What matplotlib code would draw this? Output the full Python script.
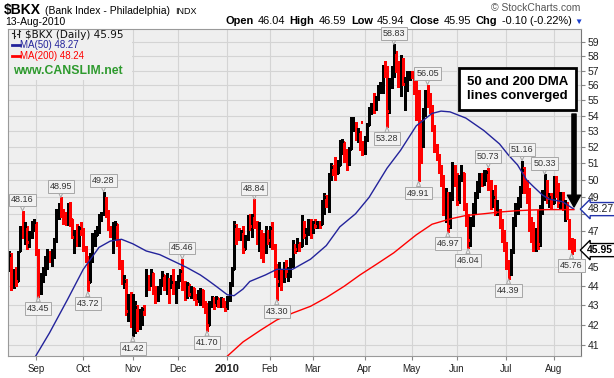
import numpy as np
import pandas as pd
import matplotlib
matplotlib.use("Agg")
import matplotlib.pyplot as plt
import matplotlib.transforms as mtransforms
from matplotlib.lines import Line2D
from matplotlib.patches import Rectangle
from matplotlib.ticker import FixedLocator, NullLocator, FixedFormatter

plt.rcParams['font.family'] = ['Liberation Sans', 'DejaVu Sans']

# DATA #

symbol = "$BKX"
title = "(Bank Index - Philadelphia)"
exchange = "INDX"
holidays = ["2009-09-07", "2009-11-26", "2009-12-25", "2010-01-01", "2010-01-18",
            "2010-02-15", "2010-04-02", "2010-05-31", "2010-07-05"]

# daily bars, 14-Aug-2009 .. 13-Aug-2010
opens = [
    45.3, 45.6, 44.0, 44.6, 44.3, 45.9, 47.2, 46.8, 47.2, 46.5, 46.8, 47.3,  # aug
    47.4, 45.9, 44.2, 44.5, 44.8, 45.4, 45.7, 45.5, 45.9, 46.5, 48.1, 48.5, 48.2, 47.6, 47.4, 48.3,
    47.7, 46.7, 46.9, 46.4, 47.2,  # sep
    47.0, 46.1, 45.5, 44.2, 45.5, 46.7, 46.8, 47.1, 47.8, 48.0, 48.9, 48.0, 47.2, 46.9, 47.0, 47.4,
    46.4, 45.1, 44.2, 44.3, 42.7, 43.4,  # oct
    42.1, 42.5, 42.9, 41.9, 42.6, 42.8, 43.6, 44.5, 44.3, 44.7, 43.9, 43.3, 43.9, 44.3, 44.6, 44.0,
    44.4, 44.0, 44.2, 43.8,  # nov
    44.1, 44.5, 44.8, 44.0, 43.5, 44.1, 43.6, 43.9, 43.5, 43.2, 43.7, 43.8, 43.1, 42.7, 42.0, 43.1,
    43.3, 43.0, 43.4, 43.0, 43.3, 43.1,  # dec
    42.9, 43.4, 44.1, 44.9, 47.3, 47.1, 46.6, 47.0, 46.0, 46.6, 47.8, 47.3, 47.9, 47.5, 46.5, 47.0,
    45.6, 45.9, 47.0,  # jan
    46.5, 47.2, 46.2, 44.7, 44.3, 44.6, 44.4, 45.1, 44.8, 44.9, 45.4, 46.2, 46.0, 46.3, 46.2, 47.5,
    46.8, 47.0, 47.5,  # feb
    47.0, 47.5, 47.3, 47.5, 47.4, 48.6, 49.0, 48.6, 50.2, 50.8, 50.6, 50.4, 50.9, 52.2, 52.3, 51.4,
    51.0, 51.9, 53.6, 52.8, 53.0, 52.0, 53.6,  # mar
    51.8, 52.5, 53.4, 54.4, 54.6, 54.5, 55.1, 55.8, 56.0, 57.2, 56.8, 54.3, 56.2, 57.0, 58.3, 57.6,
    56.2, 57.8, 56.1, 56.4, 56.8,  # apr
    56.9, 56.8, 55.6, 54.0, 53.0, 52.5, 54.3, 55.4, 55.0, 54.5, 53.3, 52.0, 51.5, 50.7, 49.9, 48.3,
    49.2, 47.3, 48.9, 50.6,  # may
    49.8, 48.7, 50.2, 50.4, 48.4, 47.6, 46.5, 47.6, 48.4, 49.1, 49.6, 50.2, 49.8, 50.3, 50.5, 49.6,
    48.5, 49.0, 48.1, 48.2, 47.4, 46.6,  # jun
    46.1, 45.3, 44.8, 45.9, 47.6, 48.4, 48.8, 49.4, 50.6, 49.4, 49.2, 47.3, 46.8, 46.2, 47.0, 46.3,
    48.3, 49.2, 49.9, 48.9, 49.0,  # jul
    48.6, 50.0, 49.3, 48.7, 49.1, 48.5, 48.6, 47.6, 46.2, 46.04,  # aug
]
highs = [
    45.9, 45.8, 44.9, 45.0, 45.9, 47.3, 48.16, 47.5, 47.3, 47.0, 47.6, 47.7,
    47.5, 46.0, 44.7, 45.0, 45.6, 46.0, 45.9, 46.0, 46.6, 48.3, 48.6, 48.95, 48.3, 48.1, 48.6, 48.7,
    47.7, 47.1, 47.4, 47.3, 47.5,
    47.2, 46.2, 45.6, 45.8, 46.9, 47.1, 47.3, 48.0, 48.1, 49.28, 48.95, 48.2, 47.3, 47.5, 47.6, 47.4,
    46.5, 45.4, 44.6, 44.4, 43.6, 43.7,
    43.6, 43.2, 43.0, 42.8, 42.9, 43.0, 44.9, 44.6, 44.9, 44.7, 44.0, 44.0, 44.4, 44.8, 44.6, 44.7,
    44.4, 44.6, 44.9, 44.3,
    44.6, 44.9, 45.46, 44.3, 44.2, 44.1, 44.0, 43.9, 43.6, 43.8, 43.9, 43.8, 43.2, 43.1, 43.2, 43.5,
    43.45, 43.5, 43.4, 43.45, 43.4, 43.2,
    43.5, 44.2, 45.0, 47.6, 47.4, 47.2, 47.1, 47.3, 46.8, 47.9, 48.0, 48.0, 48.84, 47.6, 47.5, 47.1,
    46.9, 47.3, 47.0,
    47.3, 47.5, 46.3, 45.2, 45.3, 44.9, 45.3, 45.4, 45.0, 45.5, 46.5, 46.3, 46.6, 46.4, 47.9, 47.6,
    47.2, 47.7, 47.7,
    47.6, 47.7, 47.6, 47.6, 48.8, 49.2, 49.1, 50.4, 51.0, 50.9, 51.4, 51.2, 52.45, 52.5, 52.3, 51.9,
    52.0, 53.9, 53.9, 53.6, 53.2, 53.0, 52.4,
    52.7, 53.5, 54.6, 54.8, 55.5, 55.3, 56.0, 56.2, 57.4, 57.7, 57.3, 56.5, 57.3, 58.83, 58.4, 57.7,
    58.1, 57.9, 56.6, 57.0, 57.0,
    57.0, 56.9, 56.4, 55.7, 53.7, 54.5, 55.7, 56.05, 55.5, 54.7, 53.4, 52.2, 51.6, 50.9, 50.3, 49.5,
    49.3, 49.3, 51.1, 50.9,
    50.4, 50.3, 50.9, 50.4, 48.6, 48.0, 47.8, 48.6, 49.3, 49.9, 50.4, 50.4, 50.6, 50.6, 50.73, 50.0,
    49.4, 49.7, 48.8, 48.3, 47.7, 47.1,
    46.4, 45.4, 46.0, 47.8, 48.6, 49.0, 49.6, 51.16, 50.8, 50.0, 49.5, 47.8, 47.5, 47.2, 48.2, 48.5,
    49.4, 50.33, 50.0, 49.2, 49.2,
    50.25, 50.2, 49.8, 49.3, 49.3, 48.8, 48.7, 47.7, 46.6, 46.59,
]
lows = [
    44.8, 43.8, 43.9, 44.0, 44.3, 45.9, 46.6, 46.3, 46.0, 46.1, 46.6, 47.0,
    45.7, 43.45, 43.6, 44.2, 44.6, 44.9, 45.3, 45.1, 45.5, 46.4, 47.7, 47.8, 47.4, 47.4, 47.4, 47.3,
    46.6, 45.8, 46.2, 46.2, 46.8,
    45.9, 45.3, 43.72, 44.2, 45.3, 46.2, 46.8, 46.9, 47.6, 48.0, 47.8, 47.1, 46.7, 45.8, 46.5, 46.2,
    44.9, 44.1, 43.9, 42.5, 42.2, 41.9,
    41.42, 41.6, 41.7, 41.8, 42.0, 42.5, 43.5, 43.8, 44.0, 43.6, 43.1, 43.2, 43.6, 44.0, 43.8, 43.6,
    43.1, 43.9, 43.6, 43.1,
    43.9, 44.3, 43.8, 43.3, 43.4, 43.5, 43.4, 43.3, 43.0, 43.2, 43.0, 42.9, 42.6, 41.70, 42.0, 42.9,
    42.8, 43.0, 42.9, 42.9, 42.9, 42.7,
    42.8, 43.2, 44.0, 44.9, 46.3, 46.5, 46.5, 45.8, 46.0, 46.5, 47.1, 46.7, 47.2, 46.3, 45.9, 45.5,
    45.3, 45.8, 46.3,
    46.1, 46.0, 44.5, 43.30, 44.0, 43.8, 44.2, 44.5, 44.3, 44.5, 45.0, 45.8, 45.9, 45.9, 46.2, 46.6,
    46.3, 46.8, 46.6,
    46.9, 47.2, 47.2, 47.2, 47.4, 48.0, 48.4, 48.1, 50.0, 50.3, 50.0, 50.4, 50.9, 51.6, 51.1, 50.6,
    50.9, 51.9, 53.0, 52.45, 52.3, 51.8, 51.5,
    51.6, 52.4, 53.4, 54.1, 54.2, 54.4, 55.0, 55.5, 55.5, 56.6, 53.28, 54.2, 55.8, 56.6, 56.9, 55.9,
    55.3, 56.0, 54.4, 55.6, 56.4,
    56.5, 55.4, 53.7, 49.91, 51.0, 52.0, 54.0, 54.6, 54.2, 53.0, 51.7, 51.2, 50.4, 49.6, 47.9, 47.5,
    46.97, 47.2, 48.8, 49.6,
    48.5, 48.6, 49.9, 48.2, 47.3, 46.04, 46.2, 47.3, 48.0, 48.9, 49.3, 49.6, 49.7, 49.9, 49.4, 48.3,
    48.4, 47.9, 47.9, 47.2, 46.4, 45.9,
    44.9, 44.39, 44.6, 45.8, 47.3, 48.0, 48.4, 49.2, 49.2, 48.6, 47.0, 46.4, 45.9, 45.9, 46.0, 46.2,
    48.0, 48.8, 48.6, 48.4, 48.3,
    48.6, 49.0, 48.4, 48.3, 48.2, 47.6, 47.7, 46.0, 45.76, 45.94,
]
closes = [
    45.7, 44.0, 44.7, 44.3, 45.8, 47.1, 46.9, 47.3, 46.4, 46.8, 47.3, 47.5,
    45.9, 44.2, 44.5, 44.8, 45.4, 45.7, 45.5, 45.9, 46.5, 48.1, 48.5, 48.2, 47.5, 47.4, 48.3, 47.7,
    46.7, 46.9, 46.4, 47.2, 47.0,
    46.1, 45.5, 44.2, 45.5, 46.7, 46.8, 47.1, 47.8, 48.0, 48.9, 48.0, 47.2, 46.9, 47.3, 47.4, 46.4,
    45.1, 44.2, 44.3, 42.7, 43.4, 42.1,
    42.5, 42.9, 41.9, 42.6, 42.8, 42.6, 44.7, 44.4, 44.8, 43.9, 43.3, 43.9, 44.3, 44.6, 44.0, 44.5,
    43.3, 44.2, 43.8, 44.1,
    44.5, 44.8, 44.0, 43.5, 44.1, 43.6, 43.9, 43.5, 43.2, 43.7, 43.8, 43.1, 42.7, 42.0, 43.1, 43.3,
    43.0, 43.4, 43.0, 43.3, 43.1, 42.8,
    43.4, 44.1, 44.9, 47.3, 47.1, 46.6, 47.0, 46.0, 46.6, 47.8, 47.3, 47.9, 47.5, 46.5, 47.3, 45.6,
    45.4, 47.1, 46.5,
    47.2, 46.2, 44.7, 44.3, 45.0, 44.4, 45.1, 44.8, 44.9, 45.4, 46.2, 46.0, 46.4, 46.2, 47.7, 46.8,
    47.0, 47.5, 46.9,
    47.5, 47.3, 47.5, 47.4, 48.6, 49.0, 48.6, 50.2, 50.8, 50.6, 50.3, 50.9, 52.2, 52.4, 51.4, 51.0,
    51.9, 53.6, 53.7, 52.8, 53.0, 52.0, 51.8,
    52.5, 53.4, 54.4, 54.6, 54.5, 55.1, 55.8, 56.0, 57.2, 56.8, 54.3, 56.2, 57.0, 58.3, 57.6, 56.2,
    57.8, 56.1, 56.4, 56.8, 56.9,
    56.8, 55.6, 54.0, 53.2, 51.5, 54.3, 55.4, 55.0, 54.5, 53.3, 52.0, 51.5, 50.7, 49.9, 48.3, 49.2,
    47.3, 48.9, 50.6, 49.8,
    48.7, 50.2, 50.4, 48.4, 47.6, 46.5, 47.6, 48.4, 49.1, 49.6, 50.2, 49.8, 50.3, 50.5, 49.6, 48.5,
    49.0, 48.1, 48.2, 47.4, 46.6, 46.1,
    45.3, 44.8, 45.9, 47.6, 48.4, 48.8, 49.4, 50.6, 49.4, 49.2, 47.3, 46.8, 46.2, 47.0, 46.3, 48.3,
    49.2, 49.9, 48.9, 49.0, 48.6,
    50.0, 49.3, 48.7, 49.1, 48.5, 48.6, 48.0, 46.2, 46.05, 45.95,
]

# moving averages, sampled from the drawn lines (bar number, value)
ma50_bar = [11, 18, 26, 33, 40, 45, 50, 55, 61, 67, 73, 79, 85, 88, 92, 97, 100, 104, 107, 114,
            119, 126, 134, 141, 147, 154, 160, 168, 174, 181, 188, 192, 196, 203, 211, 218, 222,
            226, 230, 233, 237, 240, 246, 251]
ma50 = [40.3, 41.6, 43.3, 44.9, 46.1, 46.45, 46.55, 46.3, 45.9, 45.7, 45.35, 45.0, 44.6, 44.35,
        44.0, 43.55, 43.5, 43.85, 44.25, 44.6, 44.9, 44.9, 45.45, 46.2, 47.25, 48.0, 48.95, 50.7,
        51.8, 53.35, 54.15, 54.3, 54.25, 53.85, 53.05, 52.2, 51.5, 50.9, 50.0, 49.6, 49.1, 48.85,
        48.7, 48.27]
ma200_bar = [97, 104, 112, 119, 126, 134, 141, 149, 156, 163, 171, 178, 181, 188, 196, 203, 211,
             218, 226, 233, 240, 251]
ma200 = [40.45, 41.15, 41.75, 42.25, 42.6, 42.95, 43.4, 44.0, 44.6, 45.15, 45.8, 46.5, 46.8, 47.4,
         47.7, 47.9, 48.0, 48.1, 48.18, 48.22, 48.24, 48.24]

# labelled swing highs / lows (bar numbers)
peak_bars = [6, 23, 42, 77, 109, 171, 186, 213, 228, 238]
trough_bars = [13, 35, 55, 88, 119, 168, 182, 195, 204, 222, 250]

price_ticks = list(range(41, 60))
note = "50 and 200 DMA\nlines converged"

# PROGRAM #

W, H = 614, 378
def fx(px): return px / W
def fy(py): return 1 - py / H

o, h, l, c = (np.array(a) for a in (opens, highs, lows, closes))
dates = pd.bdate_range("2009-08-14", "2010-08-13", freq="C", holidays=holidays)
x = np.arange(len(dates))

fig = plt.figure(figsize=(W / 100, H / 100), dpi=100)
fig.patch.set_facecolor('white')
ax = fig.add_axes([fx(8), fy(356), fx(581) - fx(8), fy(29) - fy(356)])
ax.set_facecolor('#efefef')
ax.set_yscale('log')
ax.set_ylim(40.46, 59.93)
ax.set_xlim(-0.45, 254.2)

# price-axis tags hide the tick labels they sit on
tags = [ma50[-1], c[-1]]
tick_txt = ['' if min(abs(np.log(v / t)) for t in tags) < 0.013 else str(v) for v in price_ticks]

# grid / axes
month_start = [i for i in range(1, len(dates)) if dates[i].month != dates[i - 1].month]
month_lbl = ['2010' if dates[i].month == 1 else dates[i].strftime('%b') for i in month_start]
ax.xaxis.set_major_locator(FixedLocator(month_start))
ax.xaxis.set_major_formatter(FixedFormatter(month_lbl))
ax.yaxis.set_major_locator(FixedLocator(price_ticks))
ax.yaxis.set_major_formatter(FixedFormatter(tick_txt))
ax.yaxis.set_minor_locator(NullLocator())
ax.xaxis.set_minor_locator(NullLocator())
ax.yaxis.tick_right()
ax.set_axisbelow(True)
ax.grid(True, color='#d4d4d4', lw=0.8)
ax.tick_params(axis='y', direction='out', length=3, width=0.8, color='#888888',
               labelsize=7.5, pad=1.5, labelcolor='#222222')
ax.tick_params(axis='x', direction='out', length=3, width=0.8, color='#888888',
               labelsize=7, pad=3, labelcolor='#222222')
for t in ax.get_xticklabels():
    if t.get_text() == '2010':
        t.set_fontweight('bold')
        t.set_fontsize(8)
for s in ax.spines.values():
    s.set_color('#9a9a9a')
    s.set_linewidth(0.8)
ax.spines['right'].set_color('#777777')

# legend area covers the grid
ax.add_patch(Rectangle((0, (356 - 80) / 327), (132 - 8) / 573, 1, transform=ax.transAxes,
                       fc='#efefef', ec='none', zorder=1))

# OHLC bars
up = np.r_[True, c[1:] >= c[:-1]]
col = np.where(up, 'black', '#ff0000')
kw = dict(colors=col, lw=0.75, antialiased=False, zorder=2)
ax.vlines(x, l, h, **kw)
ax.hlines(o, x - 0.4, x, **kw)
ax.hlines(c, x, x + 0.4, **kw)

# moving averages
ax.plot(ma50_bar, ma50, color='#23239b', lw=1.0, zorder=3)
ax.plot(ma200_bar, ma200, color='#ff0000', lw=1.0, zorder=3)

# swing labels
box = dict(boxstyle='square,pad=0.2', fc='#f2f2f2', ec='#a6a6a6', lw=0.7)
arr = dict(arrowstyle='wedge,tail_width=0.45', fc='#f2f2f2', ec='#a6a6a6', lw=0.7,
           shrinkA=0, shrinkB=0)
for i in peak_bars:
    ax.annotate(f'{h[i]:.2f}', xy=(i, h[i]), xytext=(0, 8), textcoords='offset points',
                ha='center', va='center', fontsize=6.5, color='#333333', bbox=box,
                arrowprops=arr, zorder=4)
for i in trough_bars:
    ax.annotate(f'{l[i]:.2f}', xy=(i, l[i]), xytext=(0, -8.5), textcoords='offset points',
                ha='center', va='center', fontsize=6.5, color='#333333', bbox=box,
                arrowprops=arr, zorder=4)

# current values on the price axis
bt = mtransforms.blended_transform_factory(ax.transAxes, ax.transData)
ax.text(1.011, ma50[-1], f'{ma50[-1]:.2f}', transform=bt, ha='left', va='center',
        fontsize=7.5, color='#222222', zorder=6, clip_on=False,
        bbox=dict(boxstyle='larrow,pad=0.15', fc='white', ec='#2233aa', lw=1.0))
ax.text(1.011, c[-1], f'{c[-1]:.2f}', transform=bt, ha='left', va='center',
        fontsize=7.5, fontweight='bold', color='black', zorder=6, clip_on=False,
        bbox=dict(boxstyle='larrow,pad=0.15', fc='white', ec='black', lw=1.0))

# note and arrow
fig.text(fx(517.5), fy(89), note, ha='center', va='center', fontsize=9.5, fontweight='bold',
         linespacing=1.25,
         bbox=dict(boxstyle='square,pad=0.6', fc='white', ec='black', lw=2))
ax.annotate('', xy=(fx(574), fy(207)), xycoords='figure fraction',
            xytext=(fx(574), fy(114)), textcoords='figure fraction',
            arrowprops=dict(arrowstyle='simple,head_length=0.85,head_width=0.95,tail_width=0.3',
                            fc='black', ec='black', shrinkA=0, shrinkB=0, mutation_scale=10),
            annotation_clip=False, zorder=7)

# header texts
r = fig.canvas.get_renderer()
def row(px, py, parts):
    for s, gap, kw in parts:
        t = fig.text(fx(px), fy(py), s, va='baseline', **kw)
        px += t.get_window_extent(r).width + gap
    return px

row(4, 14, [(symbol, 4, dict(fontsize=10, fontweight='bold')),
            (title, 5, dict(fontsize=7.5)),
            (exchange, 0, dict(fontsize=6.5))])
fig.text(fx(5), fy(25), dates[-1].strftime('%d-%b-%Y'), fontsize=7.5, va='baseline')
chg = c[-1] - c[-2]
B = dict(fontsize=7.9, fontweight='bold')
N = dict(fontsize=7.9)
end = row(225, 24, [("Open", 4, B), (f"{o[-1]:.2f}", 5, N), ("High", 4, B), (f"{h[-1]:.2f}", 5, N),
                    ("Low", 4, B), (f"{l[-1]:.2f}", 5, N), ("Close", 4, B), (f"{c[-1]:.2f}", 5, N),
                    ("Chg", 4, B), (f"{chg:.2f} ({chg / c[-2] * 100:.2f}%)", 3, N)])
fig.text(fx(end), fy(24), "\u25bc", fontsize=6, color='#1a3fd0', va='baseline')
fig.text(fx(580), fy(11), "\u00a9 StockCharts.com", fontsize=7.5, color='#555555',
         ha='right', va='baseline')

# legend
for xs, ys in [([13.5, 13.5], [30, 38]), ([12, 13.5], [32.5, 32.5]), ([13.5, 15], [35.5, 35.5]),
               ([18.5, 18.5], [29.5, 36.5]), ([17, 18.5], [34, 34]), ([18.5, 20], [31, 31])]:
    fig.add_artist(Line2D([fx(v) for v in xs], [fy(v) for v in ys], color='#222222', lw=0.8))
fig.text(fx(25), fy(37.5), f"{symbol} (Daily) {c[-1]:.2f}", fontsize=7.5, va='baseline',
         family='DejaVu Sans', color='#111111')
fig.add_artist(Line2D([fx(12), fx(20)], [fy(44.5)] * 2, color='#23239b', lw=2))
fig.text(fx(20.5), fy(48), f"MA(50) {ma50[-1]:.2f}", fontsize=7, va='baseline', color='#23239b')
fig.add_artist(Line2D([fx(12), fx(20)], [fy(55.5)] * 2, color='#ff0000', lw=2))
fig.text(fx(20.5), fy(59), f"MA(200) {ma200[-1]:.2f}", fontsize=7, va='baseline', color='#ff0000')
fig.text(fx(13), fy(73.5), "www.CANSLIM.net", fontsize=8.8, fontweight='bold', color='#2e9a2e',
         va='baseline')

fig.savefig("out.png", dpi=100)
